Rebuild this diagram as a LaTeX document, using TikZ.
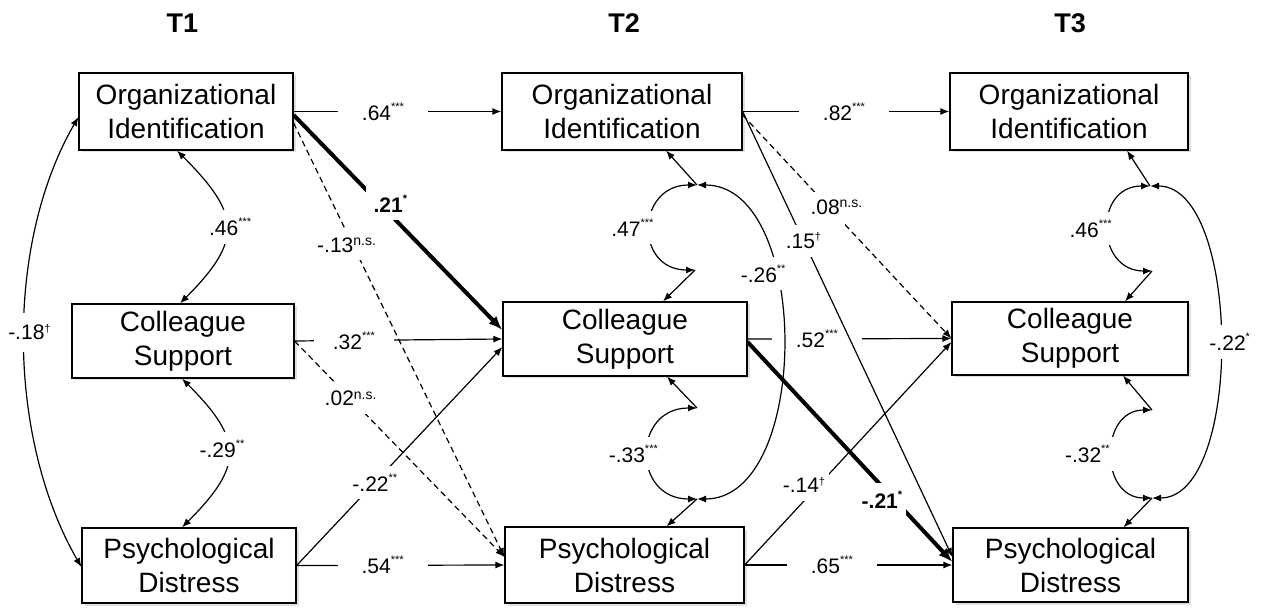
\documentclass[tikz,border=0pt]{standalone}
\usepackage{fontspec}
\setmainfont{Liberation Sans}
\usetikzlibrary{arrows.meta,shadows,calc}
\newcommand\stars[1]{\raisebox{10pt}{\fontsize{11}{11}\selectfont #1}}
\newcommand\nsx{\raisebox{6.5pt}{\fontsize{14}{14}\selectfont n.s.}}
\newcommand\dgr{\raisebox{7.5pt}{\fontsize{11}{11}\selectfont\textdagger}}
\begin{document}
\begin{tikzpicture}[x=1pt,y=1pt,
  >={Latex[length=9pt,width=7pt]},
  box/.style={draw=black, line width=1.2pt, fill=white, align=center,
    font=\fontsize{28}{34}\selectfont, inner sep=0pt,
    drop shadow={shadow xshift=2.5pt,shadow yshift=-2.5pt,fill=black!25}},
  ttl/.style={font=\bfseries\fontsize{27}{27}\selectfont},
  pth/.style={line width=1.2pt, ->},
  dsh/.style={line width=1.2pt, ->, dash pattern=on 6pt off 4pt},
  boldp/.style={line width=4pt, -{Latex[length=14pt,width=11pt]}},
  cov/.style={line width=1.2pt, <->},
  lab/.style={fill=white, inner xsep=4pt, inner ysep=8pt, font=\fontsize{21}{24}\selectfont},
  hlab/.style={lab, inner xsep=24pt, inner ysep=3pt},
  clab/.style={lab, inner xsep=5pt, inner ysep=8pt}
]
\useasboundingbox (0,0) rectangle (1265,608);

% titles
\node[ttl] (t1) at (182.5,585) {T1};
\node[ttl] (t2) at (624,585) {T2};
\node[ttl] (t3) at (1070,585) {T3};

% boxes
\node[box, minimum width=214pt, minimum height=77pt] (o1) at (186,496.5) {Organizational\\Identification};
\node[box, minimum width=222pt, minimum height=74pt] (c1) at (183,267) {Colleague\\Support};
\node[box, minimum width=214pt, minimum height=75pt] (p1) at (189,42.5) {Psychological\\Distress};
\node[box, minimum width=240pt, minimum height=77pt] (o2) at (622,496.5) {Organizational\\Identification};
\node[box, minimum width=244pt, minimum height=74pt] (c2) at (625,269) {Colleague\\Support};
\node[box, minimum width=239pt, minimum height=76pt] (p2) at (624.5,43) {Psychological\\Distress};
\node[box, minimum width=238pt, minimum height=77pt] (o3) at (1069,496.5) {Organizational\\Identification};
\node[box, minimum width=236pt, minimum height=73pt] (c3) at (1070,269.5) {Colleague\\Support};
\node[box, minimum width=235pt, minimum height=74pt] (p3) at (1070.5,43) {Psychological\\Distress};

% stability paths
\draw[pth] (o1.east) -- node[hlab,pos=0.43]{.64\stars{***}} (o2.west);
\draw[pth] (o2.east) -- node[hlab,pos=0.49]{.82\stars{***}} (o3.west);
\draw[pth] (c1.east) -- node[hlab,pos=0.285,inner xsep=19pt]{.32\stars{***}} (c2.west);
\draw[pth] (c2.east) -- node[hlab,pos=0.34]{.52\stars{***}} (c3.west);
\draw[pth] (p1.east) -- node[hlab,pos=0.414]{.54\stars{***}} (p2.west);
\draw[pth] (p2.east) -- node[hlab,pos=0.42]{.65\stars{***}} (p3.west);

% cross-lagged paths
\draw[boldp] ([yshift=-3.5pt]o1.east) -- node[lab,pos=0.42,xshift=9pt,yshift=2pt,inner xsep=8pt]{\bfseries .21\stars{*}} ([yshift=9pt]c2.west);
\draw[dsh] ([yshift=-11.5pt]o1.east) -- node[lab,pos=0.275,xshift=-5pt,yshift=-2.6pt]{-.13\nsx} ([yshift=8pt]p2.west);
\draw[dsh] (c1.east) -- node[lab,pos=0.267]{.02\nsx} ([yshift=8pt]p2.west);
\draw[pth] (p1.east) -- node[lab,pos=0.38]{-.22\stars{**}} ([yshift=-8pt]c2.west);
\draw[dsh] ([yshift=-3.5pt]o2.east) -- node[lab,pos=0.43,xshift=4pt,yshift=4pt]{.08\nsx} (c3.west);
\draw[pth] (o2.east) -- node[lab,pos=0.29]{.15\dgr} ([yshift=8pt]p3.west);
\draw[boldp] ([yshift=-3pt]c2.east) -- node[lab,pos=0.70,xshift=-9pt,yshift=-4pt]{\bfseries -.21\stars{*}} ([yshift=3pt]p3.west);
\draw[pth] (p2.east) -- node[lab,pos=0.345,xshift=-12pt,yshift=3pt]{-.14\dgr} ([yshift=-3.5pt]c3.west);

% T1 covariances
\draw[cov] ([xshift=-9pt]o1.south) to[out=-45,in=45,looseness=1.5] node[clab,xshift=4pt]{.46\stars{***}} ([xshift=-3pt]c1.north);
\draw[cov] ([xshift=-1pt]c1.south) to[out=-45,in=45,looseness=1.5] node[clab,pos=0.47,xshift=-6pt]{-.29\stars{**}} ([xshift=-7pt]p1.north);
\draw[cov] ([yshift=-5.5pt]o1.west) to[out=240,in=120,looseness=0.84] node[clab,pos=0.48,xshift=5pt,inner ysep=12pt]{-.18\dgr} ([yshift=-1.5pt]p1.west);

% residual junctions
\coordinate (jo2) at (697,423);
\coordinate (jc2t) at (695,338);
\coordinate (jc2b) at (697,200);
\coordinate (jp2) at (697,109);
\coordinate (jo3) at (1150,422);
\coordinate (jc3t) at (1152,337);
\coordinate (jc3b) at (1152,198);
\coordinate (jp3) at (1152,110);

\draw[pth] (jo2) -- ([xshift=44pt]o2.south);
\draw[pth] (jc2t) -- ([xshift=38pt]c2.north);
\draw[pth] (jc2b) -- ([xshift=42pt]c2.south);
\draw[pth] (jp2) -- ([xshift=42pt]p2.north);
\draw[pth] (jo3) -- ([xshift=58pt]o3.south);
\draw[pth] (jc3t) -- ([xshift=55pt]c3.north);
\draw[pth] (jc3b) -- ([xshift=53pt]c3.south);
\draw[pth] (jp3) -- ([xshift=53pt]p3.north);

% T2 covariances
\draw[cov] (jo2) to[out=180,in=180,looseness=1.83] node[clab,xshift=-18pt]{.47\stars{***}} (jc2t);
\draw[cov] (jc2b) to[out=180,in=180,looseness=1.83] node[clab,xshift=-15pt]{-.33\stars{***}} (jp2);
\draw[cov] (jo2) to[out=0,in=0,looseness=0.935] node[clab,pos=0.35,xshift=-12pt]{-.26\stars{**}} (jp2);

% T3 covariances
\draw[cov] (jo3) to[out=180,in=180,looseness=1.7] node[clab,xshift=-18pt]{.46\stars{***}} (jc3t);
\draw[cov] (jc3b) to[out=180,in=180,looseness=1.54] node[clab,xshift=-25pt]{-.32\stars{**}} (jp3);
\draw[cov] (jo3) to[out=0,in=0,looseness=0.75] node[clab,xshift=10pt]{-.22\stars{*}} (jp3);
\end{tikzpicture}
\end{document}
